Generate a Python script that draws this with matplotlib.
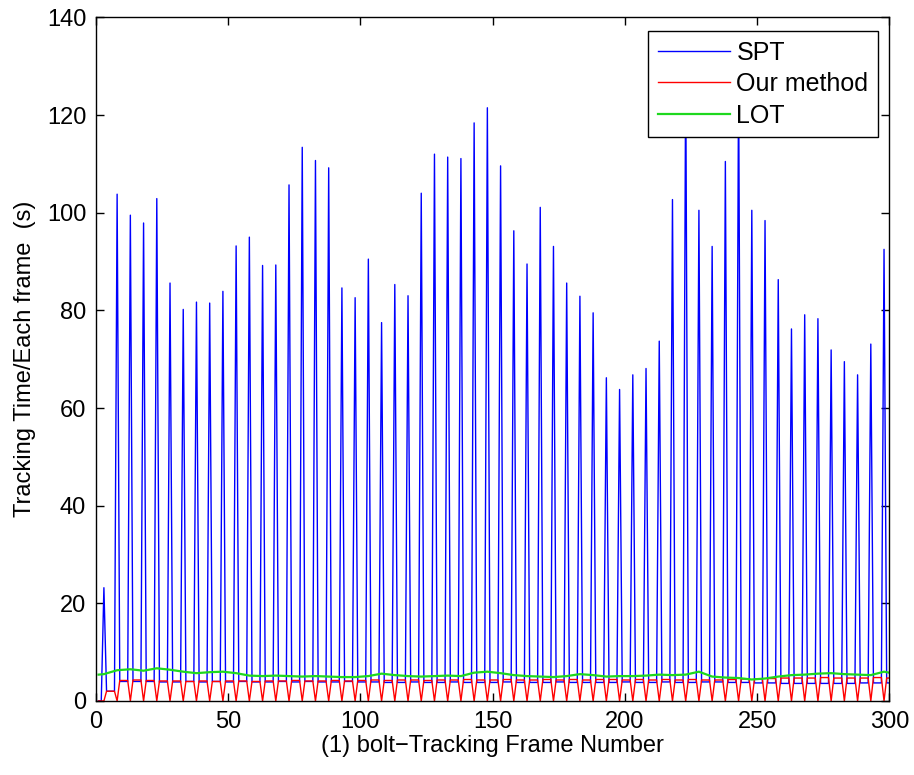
import numpy as np
import matplotlib
matplotlib.use("Agg")
import matplotlib.pyplot as plt

plt.rcParams["font.family"] = ["Liberation Sans", "DejaVu Sans"]

# frame where each SPT spike happens (every 5th frame, starting at 3)
spike_frames = list(range(3, 299, 5))

# SPT peak value at each spike frame (223 and 243 go behind the legend)
spt_peaks = [23.2, 103.8, 99.5, 97.9, 102.9, 85.6, 80.2, 81.7, 81.5, 83.9,
             93.2, 95.0, 89.2, 89.3, 105.7, 113.4, 110.7, 109.2, 84.6, 82.6,
             90.5, 77.5, 85.3, 83.0, 104.0, 112.0, 111.4, 111.1, 118.4, 121.5,
             109.6, 96.3, 89.5, 101.1, 93.1, 85.6, 82.9, 79.5, 66.2, 63.8,
             66.8, 68.1, 73.7, 102.7, 130.0, 100.5, 93.1, 110.5, 128.0, 100.5,
             98.4, 86.3, 76.2, 79.1, 78.3, 71.9, 69.5, 66.8, 73.1, 92.5]

# SPT level in the four frames after each spike
spt_base = [2.0, 4.0, 4.0, 4.0, 3.9, 3.9, 4.0, 3.9, 4.0, 3.9,
            4.0, 3.9, 3.9, 4.0, 3.9, 4.0, 3.9, 3.9, 4.0, 3.9,
            3.9, 3.8, 3.8, 3.9, 3.8, 3.8, 3.9, 3.8, 3.8, 3.8,
            3.9, 3.8, 3.8, 3.8, 3.9, 3.8, 3.8, 3.8, 3.8, 3.9,
            3.8, 3.8, 3.9, 3.8, 3.8, 3.9, 3.9, 3.8, 3.8, 3.7,
            3.7, 3.6, 3.6, 3.6, 3.6, 3.6, 3.6, 3.7, 3.7, 3.7]

# our method level in the four frames after each spike (drops to 0 on spikes)
ours_base = [2.0, 4.2, 4.3, 4.2, 4.1, 4.1, 4.0, 4.1, 4.0, 4.1,
             4.1, 4.0, 4.1, 4.1, 4.2, 4.1, 4.1, 4.2, 4.1, 4.2,
             4.3, 4.2, 4.3, 4.3, 4.2, 4.3, 4.3, 4.4, 4.3, 4.3,
             4.4, 4.3, 4.3, 4.4, 4.3, 4.4, 4.3, 4.4, 4.4, 4.3,
             4.4, 4.3, 4.4, 4.3, 4.4, 4.3, 4.3, 4.4, 4.5, 4.5,
             4.6, 4.7, 4.7, 4.7, 4.8, 4.7, 4.7, 4.7, 4.8, 4.7]

# LOT, read at frame 1, each spike frame and frame 300
lot_vals = [5.4, 5.5, 6.3, 6.5, 6.2, 6.7, 6.4, 6.0, 5.7, 5.9, 6.0,
            5.7, 5.2, 5.1, 5.2, 5.1, 5.0, 5.1, 5.0, 4.9, 4.9,
            5.1, 5.6, 5.3, 5.1, 5.0, 5.1, 5.2, 5.1, 5.8, 6.0,
            5.7, 5.3, 5.1, 5.0, 4.9, 5.1, 5.5, 5.3, 5.0, 5.1,
            5.1, 5.2, 5.4, 5.3, 5.4, 6.0, 5.0, 4.8, 4.7, 4.4,
            4.6, 5.0, 5.3, 5.4, 5.6, 5.7, 5.5, 5.4, 5.3, 6.0, 5.8]

n_frames = 300
frames = np.arange(1, n_frames + 1)

spt = np.zeros(n_frames)
ours = np.zeros(n_frames)
for k, s in enumerate(spike_frames):
    spt[s - 1] = spt_peaks[k]
    ours[s - 1] = 0.0
    for f in range(s + 1, min(s + 5, n_frames + 1)):
        spt[f - 1] = spt_base[k]
        ours[f - 1] = ours_base[k]

lot_frames = [1] + spike_frames + [n_frames]

fig = plt.figure(figsize=(9.14, 7.75), dpi=100)
ax = fig.add_axes([0.105, 0.0955, 0.868, 0.882])

ax.plot(frames, spt, color="#0000ff", lw=1.0, label="SPT")
ax.plot(frames, ours, color="#ff0000", lw=1.0, label="Our method")
ax.plot(lot_frames, lot_vals, color="#1ed81e", lw=1.6, label="LOT")

ax.set_xlim(0, 300)
ax.set_ylim(0, 140)
ax.set_xticks(np.arange(0, 301, 50))
ax.set_yticks(np.arange(0, 141, 20))
ax.tick_params(direction="in", top=True, right=True, length=6, width=1,
               labelsize=17, pad=7)
for sp in ax.spines.values():
    sp.set_linewidth(1.0)

ax.set_xlabel("(1) bolt\u2212Tracking Frame Number", fontsize=17, labelpad=2)
ax.set_ylabel("Tracking Time/Each frame  (s)", fontsize=17, labelpad=8)

leg = ax.legend(loc="upper right", bbox_to_anchor=(0.9855, 0.980),
                fontsize=18, fancybox=False, framealpha=1.0, edgecolor="black",
                handlelength=2.9, borderpad=0.38, labelspacing=0.3,
                handletextpad=0.25, borderaxespad=0)
leg.get_frame().set_linewidth(1.0)

fig.savefig("out.png", dpi=100, facecolor="white")
